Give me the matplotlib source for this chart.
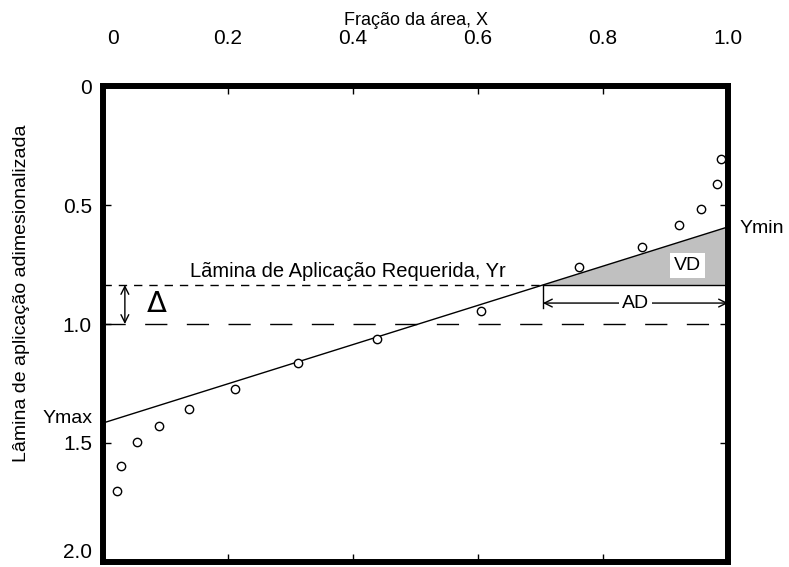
import numpy as np
import matplotlib as mpl
mpl.use('Agg')
import matplotlib.pyplot as plt
import matplotlib.transforms as mtransforms

plt.rcParams['font.family'] = ['Liberation Sans', 'DejaVu Sans']

# observed points (fraction of area vs dimensionless depth)
frac_area = [0.022, 0.029, 0.054, 0.090, 0.138, 0.211, 0.312, 0.438, 0.605,
             0.762, 0.862, 0.922, 0.957, 0.982, 0.989]
lamina = [1.702, 1.597, 1.496, 1.429, 1.357, 1.273, 1.164, 1.063, 0.945,
          0.761, 0.676, 0.584, 0.517, 0.412, 0.307]

# fitted line and required depth
y_max = 1.416
y_min = 0.592
y_req = 0.836
y_mean = 1.0

xticks = [0, 0.2, 0.4, 0.6, 0.8, 1.0]
xticklabels = ['0', '0.2', '0.4', '0.6', '0.8', '1.0']
yticks = [0, 0.5, 1.0, 1.5, 2.0]
yticklabels = ['0', '0.5', '1.0', '1.5', '2.0']

fig = plt.figure(figsize=(7.89, 5.67), dpi=100)
ax = fig.add_axes([103 / 789, 5 / 567, 625 / 789, 476 / 567])

ax.set_xlim(0, 1)
ax.set_ylim(2.0, 0)

# fitted line
ax.plot([0, 1], [y_max, y_min], color='black', lw=1.0, zorder=3)

# deficit area (VD) between line and required depth
x_req = (y_max - y_req) / (y_max - y_min)
ax.fill([x_req, 1, 1], [y_req, y_req, y_min], color='#c0c0c0', lw=0, zorder=1)
ax.plot([x_req, 1], [y_req, y_req], color='black', lw=1.0, zorder=2)

# required depth (short dashes) and mean depth (long dashes)
ax.plot([0, x_req], [y_req, y_req], color='black', lw=1.0,
        dashes=(6, 5), zorder=2)
ax.plot([0, 1], [y_mean, y_mean], color='black', lw=1.0,
        dashes=(16, 14), zorder=2)

ax.plot(frac_area, lamina, 'o', mfc='white', mec='black', ms=6, mew=1.0,
        zorder=4)

# delta arrow
ax.annotate('', xy=(0.035, y_req), xytext=(0.035, y_mean),
            arrowprops=dict(arrowstyle='<->', lw=1.0, shrinkA=0, shrinkB=0,
                            mutation_scale=14))
ax.text(0.086, 0.915, '\u0394', fontsize=21, ha='center', va='center',
        family=['DejaVu Sans'])

# AD arrow
ax.plot([x_req, x_req], [y_req, 0.933], color='black', lw=1.0)
ax.annotate('', xy=(x_req, 0.912), xytext=(1.0, 0.912),
            arrowprops=dict(arrowstyle='<->', lw=1.0, shrinkA=0, shrinkB=0,
                            mutation_scale=14))
ax.text((x_req + 1) / 2, 0.912, 'AD', fontsize=14, ha='center', va='center',
        bbox=dict(facecolor='white', edgecolor='none', pad=2), zorder=5)

ax.text(0.935, 0.754, 'VD', fontsize=14, ha='center', va='center',
        bbox=dict(facecolor='white', edgecolor='none', pad=3), zorder=5)

ax.text(0.391, 0.78, 'L\u00e3mina de Aplica\u00e7\u00e3o Requerida, Yr',
        fontsize=14.5, ha='center', va='center')

trans = mtransforms.blended_transform_factory(ax.transAxes, ax.transData)
ax.text(-0.016, 1.395, 'Ymax', fontsize=14, ha='right', va='center',
        transform=trans, clip_on=False)
ax.text(1.019, 0.597, 'Ymin', fontsize=14, ha='left', va='center',
        transform=trans, clip_on=False)

# axes styling
for sp in ax.spines.values():
    sp.set_linewidth(4.3)
ax.set_xticks(xticks)
ax.set_xticklabels(xticklabels)
ax.set_yticks(yticks)
ax.set_yticklabels(yticklabels)
ax.tick_params(axis='both', direction='in', length=6, width=1.0,
               labelsize=15, top=True, bottom=True, left=True, right=True)
ax.tick_params(axis='x', labeltop=True, labelbottom=False, pad=27)
ax.tick_params(axis='y', pad=8)

# nudge the "0" on top to the right and lift "2.0" off the bottom edge
lbl0 = ax.xaxis.get_major_ticks()[0].label2
lbl0.set_transform(lbl0.get_transform() +
                   mtransforms.ScaledTranslation(7 / 72, 0, fig.dpi_scale_trans))
ax.yaxis.get_major_ticks()[-1].label1.set_va('bottom')

ax.set_xlabel('Fra\u00e7\u00e3o da \u00e1rea, X', fontsize=13)
ax.xaxis.set_label_position('top')
ax.xaxis.set_label_coords(0.5, 1.128)

fig.text(22 / 789, 1 - 293 / 567, 'L\u00e2mina de aplica\u00e7\u00e3o adimesionalizada',
         fontsize=14, rotation=90, ha='center', va='center')

fig.savefig('out.png', dpi=100)
